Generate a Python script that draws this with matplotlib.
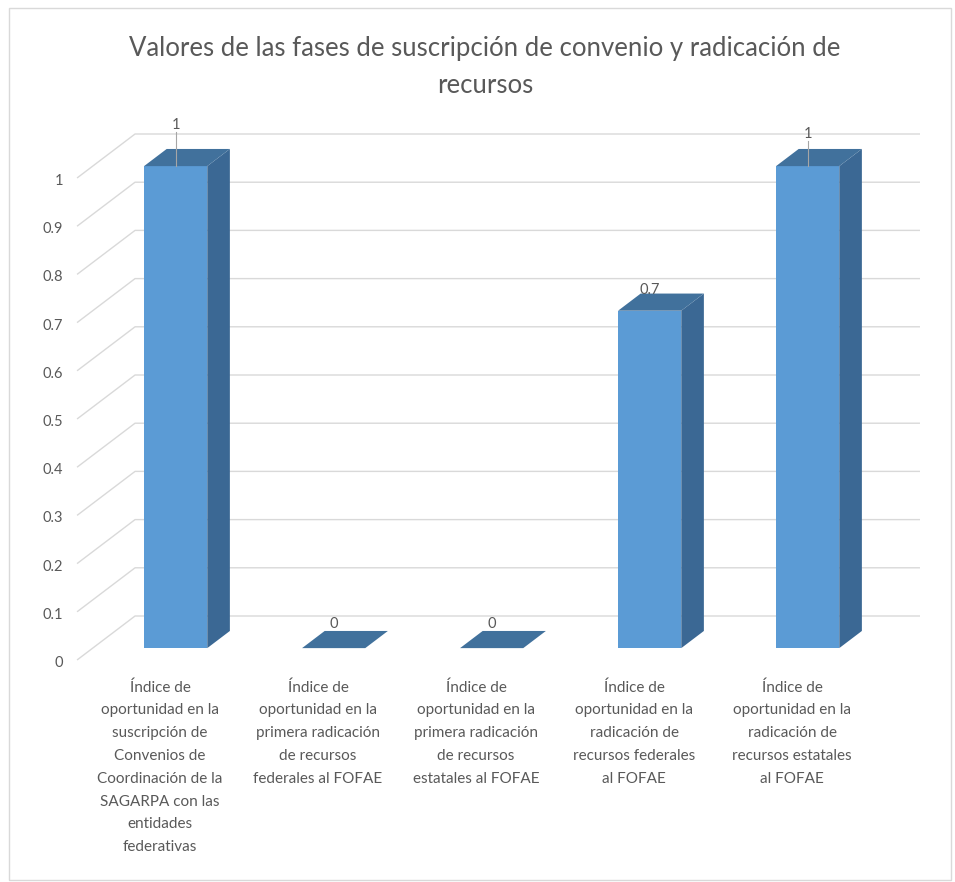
import matplotlib
matplotlib.use("Agg")
import matplotlib.pyplot as plt
from matplotlib.patches import Polygon, Rectangle

plt.rcParams['font.family'] = ['Lato', 'DejaVu Sans']

TITLE = "Valores de las fases de suscripción de convenio y radicación de\nrecursos"

categories = [
    "Índice de\noportunidad en la\nsuscripción de\nConvenios de\nCoordinación de la\nSAGARPA con las\nentidades\nfederativas",
    "Índice de\noportunidad en la\nprimera radicación\nde recursos\nfederales al FOFAE",
    "Índice de\noportunidad en la\nprimera radicación\nde recursos\nestatales al FOFAE",
    "Índice de\noportunidad en la\nradicación de\nrecursos federales\nal FOFAE",
    "Índice de\noportunidad en la\nradicación de\nrecursos estatales\nal FOFAE",
]
values = [1, 0, 0, 0.7, 1]
value_labels = ["1", "0", "0", "0.7", "1"]

y_ticks = [0, 0.1, 0.2, 0.3, 0.4, 0.5, 0.6, 0.7, 0.8, 0.9, 1]
y_tick_labels = ["0", "0.1", "0.2", "0.3", "0.4", "0.5", "0.6", "0.7", "0.8", "0.9", "1"]

# colours
FRONT = "#5b9bd5"
SIDE = "#3b6894"
TOP = "#41719c"
GRID = "#d9d9d9"
TEXT = "#595959"

W, H, DPI = 955, 882, 100
fig = plt.figure(figsize=(W / DPI, H / DPI), dpi=DPI)
ax = fig.add_axes([0, 0, 1, 1])

# scale: one category = 158 px, value 1.0 = 482 px, origin of front plane
CAT_PX, VAL_PX = 158, 482
X0_PX, Y0_PX = 160, 660
ax.set_xlim(-X0_PX / CAT_PX, (W - X0_PX) / CAT_PX)
ax.set_ylim(-(H - Y0_PX) / VAL_PX, Y0_PX / VAL_PX)
ax.axis("off")

# full depth of the chart (front plane -> back wall) in data units
DX, DY = 58 / CAT_PX, 44 / VAL_PX
D_FRONT, D_BACK = 0.27, 0.66   # bar front/back face depth
HALF_W = 0.2

x_left = -0.525
x_right = 4.81

# gridlines: diagonal on the side wall, then flat on the back wall
for v in y_ticks:
    ax.plot([x_left, x_left + DX, x_right], [v, v + DY, v + DY],
            color=GRID, lw=1, zorder=1, solid_capstyle="butt")

for v, lab in zip(y_ticks, y_tick_labels):
    ax.text(x_left - 14 / CAT_PX, v - 3 / VAL_PX, lab, ha="right", va="center",
            fontsize=10.5, color=TEXT)

# bars
ddx = (D_BACK - D_FRONT) * DX
ddy = (D_BACK - D_FRONT) * DY
for i, v in enumerate(values):
    xl = i - HALF_W + D_FRONT * DX
    xr = i + HALF_W + D_FRONT * DX
    yb = D_FRONT * DY
    if v > 0:
        ax.add_patch(Rectangle((xl, yb), xr - xl, v, facecolor=FRONT,
                               edgecolor="none", zorder=3))
        ax.add_patch(Polygon([(xr, yb), (xr + ddx, yb + ddy),
                              (xr + ddx, yb + ddy + v), (xr, yb + v)],
                             closed=True, facecolor=SIDE, edgecolor="none", zorder=3))
    ax.add_patch(Polygon([(xl, yb + v), (xr, yb + v),
                          (xr + ddx, yb + v + ddy), (xl + ddx, yb + v + ddy)],
                         closed=True, facecolor=TOP, edgecolor="none", zorder=3))

# data labels (lift above back top edge, in px)
label_lift = [24, 7, 7, 4, 15]
for i, (v, lab) in enumerate(zip(values, value_labels)):
    xc = i + D_FRONT * DX
    ytop = v + D_BACK * DY
    ylab = ytop + label_lift[i] / VAL_PX
    ax.text(xc, ylab, lab, ha="center", va="center", fontsize=10.5,
            color=TEXT, zorder=5)
    if label_lift[i] > 10:
        ax.plot([xc, xc], [ylab - 7 / VAL_PX, v + D_FRONT * DY],
                color="#a6a6a6", lw=0.8, zorder=4)

# category labels
for i, lab in enumerate(categories):
    ax.text(i, -20 / VAL_PX, lab, ha="center", va="top", fontsize=11,
            color=TEXT, linespacing=1.8, multialignment="center")

fig.text(485 / W, 1 - 67 / H, TITLE, ha="center", va="center",
         fontsize=18.5, color=TEXT, linespacing=1.6, multialignment="center")

# chart border
fig.add_artist(Rectangle((9 / W, 1 - 880 / H), 942 / W, 872 / H,
                         transform=fig.transFigure, fill=False,
                         edgecolor=GRID, lw=1))

fig.savefig("out.png", dpi=DPI)
